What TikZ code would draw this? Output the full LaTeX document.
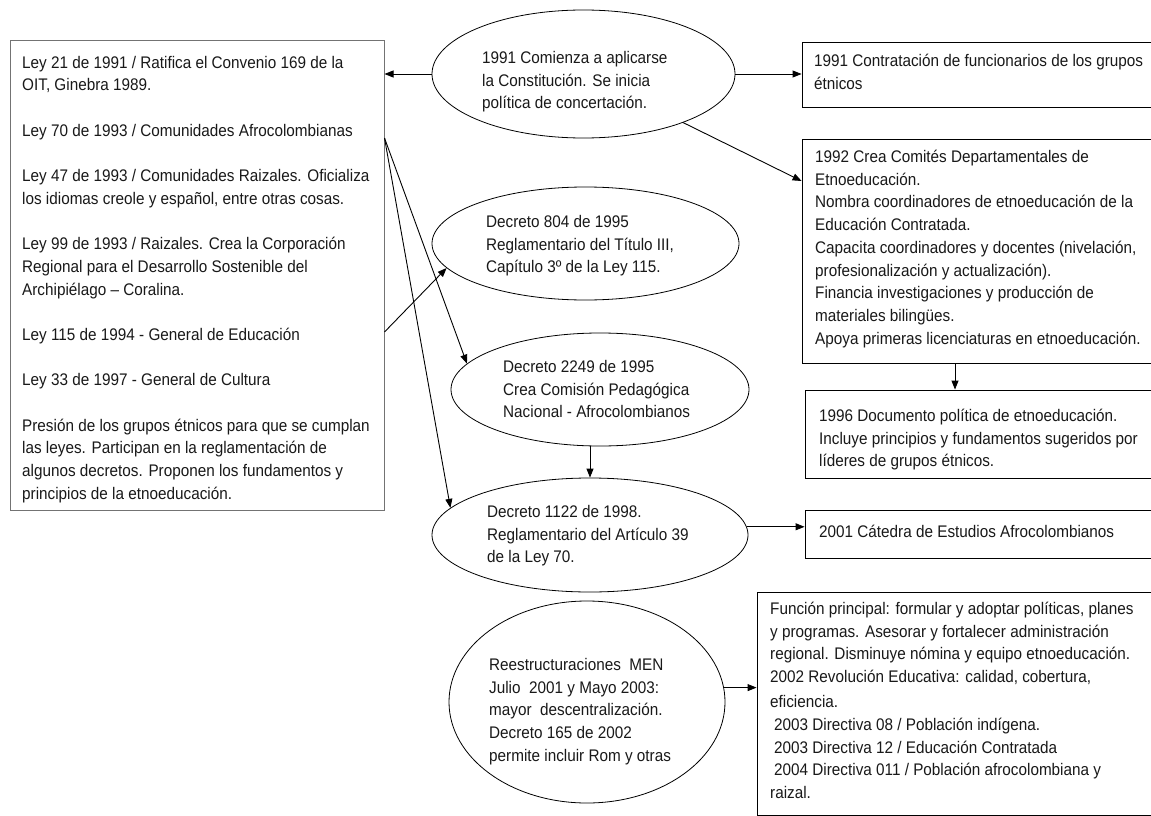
\documentclass[tikz,border=0pt]{standalone}
\usepackage{fontspec}
\setmainfont{Liberation Sans}[FakeStretch=0.91]
\usetikzlibrary{shapes.geometric,arrows.meta}
\begin{document}
\begin{tikzpicture}[x=1pt,y=-1pt,
  box/.style={draw=black, line width=0.9pt, inner sep=0pt},
  graybox/.style={draw=black!55, line width=1pt, inner sep=0pt},
  ell/.style={draw=black, ellipse, line width=0.8pt, inner sep=0pt},
  txt/.style={anchor=north west, align=left, inner sep=0pt, text=black!90,
              font=\fontsize{16.8}{22.7}\selectfont,
              execute at begin node=\rule{0pt}{13pt}},
  arr/.style={-{Triangle[length=9pt,width=7pt]}, line width=0.9pt}]
\fill[white] (0,0) rectangle (1151,816);
\useasboundingbox (0,0) rectangle (1151,816);

% boxes
\node[graybox, minimum width=374pt, minimum height=469pt] (L) at (197,275.5) {};
\node[box, minimum width=358pt, minimum height=65pt] (b1991) at (981,74.5) {};
\node[box, minimum width=358pt, minimum height=224pt] (b1992) at (981,251) {};
\node[box, minimum width=355pt, minimum height=88pt] (b1996) at (982.5,434) {};
\node[box, minimum width=355pt, minimum height=48pt] (b2001) at (982.5,534) {};
\node[box, minimum width=403pt, minimum height=223pt] (bR) at (958.5,703.5) {};

% ellipses
\node[ell, minimum width=303pt, minimum height=128pt] (e1) at (583.5,74) {};
\node[ell, minimum width=307pt, minimum height=113pt] (e804) at (585.5,243.5) {};
\node[ell, minimum width=298pt, minimum height=113pt] (e2249) at (600,389.5) {};
\node[ell, minimum width=316pt, minimum height=114pt] (e1122) at (590,535) {};
\node[ell, minimum width=276pt, minimum height=202pt] (eR) at (587,702) {};

% texts (y = first baseline - 13)
\node[txt] (tL) at (22,55.7) {Ley 21 de 1991 / Ratifica el Convenio 169 de la\\
OIT, Ginebra 1989.\\[22.7pt]
Ley 70 de 1993 / Comunidades Afrocolombianas\\[22.7pt]
Ley 47 de 1993 / Comunidades Raizales. Oficializa\\
los idiomas creole y español, entre otras cosas.\\[22.7pt]
Ley 99 de 1993 / Raizales. Crea la Corporación\\
Regional para el Desarrollo Sostenible del\\
Archipiélago – Coralina.\\[22.7pt]
Ley 115 de 1994 - General de Educación\\[22.7pt]
Ley 33 de 1997 - General de Cultura\\[22.7pt]
Presión de los grupos étnicos para que se cumplan\\
las leyes. Participan en la reglamentación de\\
algunos decretos. Proponen los fundamentos y\\
principios de la etnoeducación.};

\node[txt] (t1) at (482,51) {1991 Comienza a aplicarse\\
la Constitución. Se inicia\\
política de concertación.};

\node[txt] (t1991) at (814,54) {1991 Contratación de funcionarios de los grupos\\
étnicos};

\node[txt] (t1992) at (815,150) {1992 Crea Comités Departamentales de\\
Etnoeducación.\\
Nombra coordinadores de etnoeducación de la\\
Educación Contratada.\\
Capacita coordinadores y docentes (nivelación,\\
profesionalización y actualización).\\
Financia investigaciones y producción de\\
materiales bilingües.\\
Apoya primeras licenciaturas en etnoeducación.};

\node[txt] (t1996) at (819,409) {1996 Documento política de etnoeducación.\\
Incluye principios y fundamentos sugeridos por\\
líderes de grupos étnicos.};

\node[txt] (t2001) at (819,524) {2001 Cátedra de Estudios Afrocolombianos};

\node[txt] (t804) at (486,215) {Decreto 804 de 1995\\
Reglamentario del Título III,\\
Capítulo 3º de la Ley 115.};

\node[txt] (t2249) at (503,360) {Decreto 2249 de 1995\\
Crea Comisión Pedagógica\\
Nacional - Afrocolombianos};

\node[txt] (t1122) at (487,505) {Decreto 1122 de 1998.\\
Reglamentario del Artículo 39\\
de la Ley 70.};

\node[txt] (tER) at (489,658) {Reestructuraciones\ \ MEN\\
Julio\ \ 2001 y Mayo 2003:\\
mayor\ \ descentralización.\\
Decreto 165 de 2002\\
permite incluir Rom y otras};

\node[txt] (tR) at (770,602) {Función principal: formular y adoptar políticas, planes\\
y programas. Asesorar y fortalecer administración\\
regional. Disminuye nómina y equipo etnoeducación.\\
2002 Revolución Educativa: calidad, cobertura,\\[2.5pt]
eficiencia.\\
\hspace*{4pt}2003 Directiva 08 / Población indígena.\\
\hspace*{4pt}2003 Directiva 12 / Educación Contratada\\
\hspace*{4pt}2004 Directiva 011 / Población afrocolombiana y\\
raizal.};

% connectors
\draw[arr] (e1.west) -- (e1.west -| L.east);
\draw[arr] (e1.east) -- (e1.east -| b1991.west);
\draw[arr] (e1.-26) -- ([yshift=70pt]b1992.west);
\draw[arr] ([xshift=-26pt]b1992.south) -- ([xshift=-26pt]b1992.south |- b1996.north);
\draw[arr] ([yshift=137.5pt]L.east) -- (e2249.169);
\draw[arr] ([yshift=137.5pt]L.east) -- (e1122.169);
\draw[arr] ([yshift=-56.5pt]L.east) -- (e804.190);
\draw[arr] ([xshift=-10pt]e2249.south) -- (e1122.north);
\draw[arr] (e1122.3) -- (e1122.3 -| b2001.west);
\draw[arr] (eR.6) -- (eR.6 -| bR.west);
\end{tikzpicture}
\end{document}
